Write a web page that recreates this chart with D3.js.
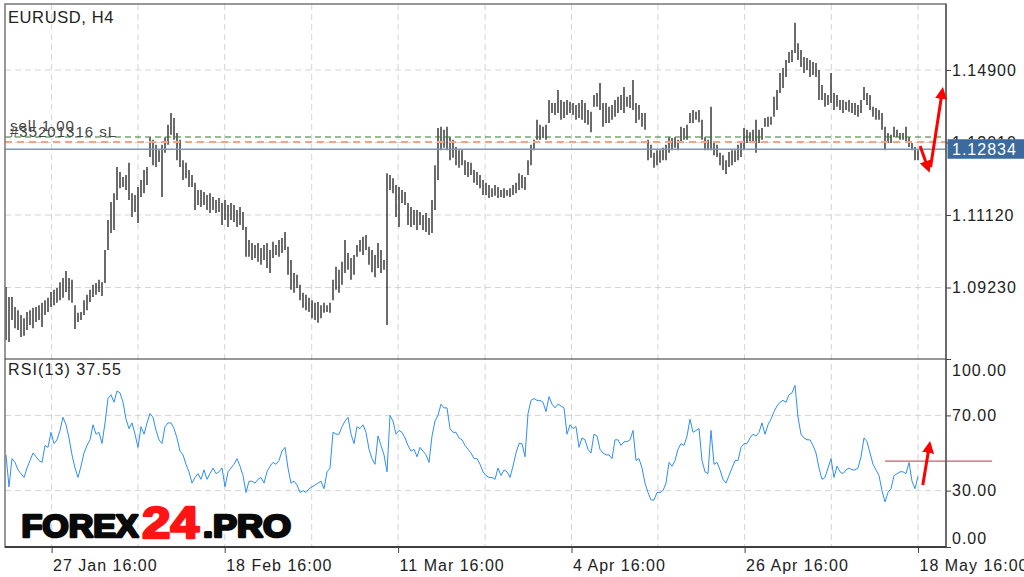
<!DOCTYPE html>
<html>
<head>
<meta charset="utf-8">
<script src="https://cdn.jsdelivr.net/npm/d3@7"></script>
<style>
  html, body { margin: 0; padding: 0; background: #fff; }
  svg { display: block; }
  text { font-family: "Liberation Sans", Arial, sans-serif; }
</style>
</head>
<body>
<svg id="chart" width="1024" height="577"></svg>
<script>
// ---------------- DATA ----------------
const symbolTitle = "EURUSD, H4";
const rsiTitle = "RSI(13) 37.55";
const lastPrice = 1.12834;
const sellPrice = 1.13153;
const stopPrice = 1.13023;
const orderLabel1 = "sell 1.00";
const orderLabel2 = "#35201316 sL";
const priceTicks = [1.14900, 1.13010, 1.11120, 1.09230];
const rsiTicks = [100, 70, 30, 0];
const rsiGrid = [70, 30];
const rsiLevel = 45.7;
const xTickIdx = [15.2, 44, 72.9, 101.9, 130.7, 159.7, 188.5, 217.3, 246.2, 275.1, 304];
const xTickLabels = ["27 Jan 16:00", "", "18 Feb 16:00", "", "11 Mar 16:00", "", "4 Apr 16:00", "", "26 Apr 16:00", "", "18 May 16:00"];

const highs = [
1.0924,1.0898,1.0898,1.0872,1.0864,1.0851,1.0843,1.0859,1.0864,1.0870,
1.0872,1.0877,1.0883,1.0890,1.0896,1.0911,1.0917,1.0922,1.0937,1.0948,
1.0966,1.0948,1.0943,1.0877,1.0857,1.0859,1.0890,1.0904,1.0917,1.0930,
1.0935,1.0943,1.0937,1.1021,1.1099,1.1146,1.1169,1.1237,1.1224,1.1211,
1.1216,1.1248,1.1169,1.1164,1.1185,1.1203,1.1229,1.1237,1.1315,1.1308,
1.1295,1.1281,1.1295,1.1315,1.1347,1.1378,1.1365,1.1326,1.1308,1.1255,
1.1248,1.1229,1.1216,1.1196,1.1177,1.1177,1.1172,1.1164,1.1169,1.1159,
1.1151,1.1156,1.1143,1.1151,1.1138,1.1143,1.1138,1.1125,1.1133,1.1120,
1.1081,1.1047,1.1039,1.1034,1.1039,1.1026,1.1034,1.1039,1.1021,1.1042,
1.1034,1.1047,1.1052,1.1068,1.1029,1.0995,1.0961,1.0956,1.0930,1.0909,
1.0904,1.0896,1.0890,1.0883,1.0885,1.0877,1.0883,1.0877,1.0883,1.0943,
1.0977,1.0969,1.0990,1.1047,1.1013,1.1000,1.1008,1.1034,1.1047,1.1055,
1.1060,1.1029,1.1021,1.1008,1.1039,1.1021,1.0995,1.1221,1.1216,1.1208,
1.1190,1.1185,1.1177,1.1172,1.1143,1.1133,1.1125,1.1125,1.1120,1.1112,
1.1117,1.1104,1.1151,1.1242,1.1339,1.1342,1.1334,1.1342,1.1315,1.1308,
1.1289,1.1281,1.1281,1.1255,1.1250,1.1248,1.1229,1.1224,1.1216,1.1203,
1.1196,1.1190,1.1182,1.1190,1.1185,1.1177,1.1182,1.1177,1.1182,1.1190,
1.1196,1.1221,1.1216,1.1211,1.1255,1.1295,1.1308,1.1360,1.1347,1.1342,
1.1347,1.1412,1.1404,1.1404,1.1438,1.1412,1.1407,1.1412,1.1407,1.1404,
1.1399,1.1404,1.1412,1.1404,1.1386,1.1381,1.1425,1.1430,1.1456,1.1404,
1.1404,1.1394,1.1399,1.1412,1.1420,1.1425,1.1446,1.1420,1.1425,1.1464,
1.1404,1.1399,1.1378,1.1378,1.1308,1.1295,1.1274,1.1281,1.1281,1.1287,
1.1295,1.1315,1.1313,1.1315,1.1308,1.1342,1.1339,1.1347,1.1378,1.1386,
1.1381,1.1386,1.1360,1.1315,1.1308,1.1394,1.1300,1.1295,1.1274,1.1268,
1.1255,1.1276,1.1281,1.1281,1.1295,1.1300,1.1339,1.1334,1.1328,1.1334,
1.1360,1.1334,1.1339,1.1365,1.1368,1.1368,1.1420,1.1438,1.1482,1.1495,
1.1516,1.1537,1.1542,1.1613,1.1560,1.1542,1.1524,1.1521,1.1516,1.1511,
1.1508,1.1490,1.1451,1.1430,1.1425,1.1482,1.1430,1.1425,1.1412,1.1412,
1.1407,1.1412,1.1404,1.1404,1.1399,1.1412,1.1446,1.1430,1.1425,1.1394,
1.1391,1.1386,1.1378,1.1342,1.1326,1.1321,1.1342,1.1334,1.1326,1.1326,
1.1342,1.1315,1.1300,1.1289,1.1281
];
const lows = [
1.0786,1.0781,1.0838,1.0817,1.0812,1.0794,1.0797,1.0812,1.0825,1.0817,
1.0833,1.0838,1.0820,1.0851,1.0859,1.0872,1.0877,1.0883,1.0890,1.0896,
1.0911,1.0890,1.0883,1.0815,1.0833,1.0838,1.0851,1.0864,1.0885,1.0898,
1.0904,1.0911,1.0901,1.0935,1.1021,1.1065,1.1073,1.1151,1.1182,1.1185,
1.1177,1.1151,1.1107,1.1120,1.1091,1.1159,1.1169,1.1190,1.1263,1.1242,
1.1237,1.1250,1.1159,1.1274,1.1295,1.1321,1.1308,1.1255,1.1237,1.1203,
1.1208,1.1185,1.1185,1.1125,1.1138,1.1133,1.1138,1.1125,1.1117,1.1125,
1.1117,1.1120,1.1086,1.1099,1.1081,1.1099,1.1094,1.1081,1.1086,1.1073,
1.1003,1.1003,1.0995,1.1000,1.0990,1.0982,1.0995,1.0974,1.0961,1.1000,
1.1008,1.1003,1.1013,1.1021,1.0956,1.0917,1.0909,1.0922,1.0890,1.0870,
1.0864,1.0859,1.0843,1.0838,1.0831,1.0843,1.0857,1.0859,1.0857,1.0890,
1.0917,1.0909,1.0930,1.0961,1.0969,1.0943,1.0956,1.1003,1.1016,1.1008,
1.1021,1.0982,1.0963,1.0950,1.0974,1.0961,1.0969,1.0825,1.1177,1.1169,
1.1107,1.1081,1.1143,1.1138,1.1086,1.1081,1.1086,1.1073,1.1086,1.1073,
1.1068,1.1060,1.1065,1.1125,1.1203,1.1281,1.1287,1.1281,1.1255,1.1261,
1.1242,1.1235,1.1242,1.1216,1.1211,1.1216,1.1196,1.1190,1.1182,1.1164,
1.1164,1.1156,1.1159,1.1162,1.1156,1.1159,1.1156,1.1162,1.1159,1.1164,
1.1169,1.1177,1.1182,1.1177,1.1216,1.1242,1.1281,1.1308,1.1308,1.1313,
1.1308,1.1352,1.1378,1.1373,1.1378,1.1360,1.1365,1.1373,1.1378,1.1373,
1.1360,1.1365,1.1360,1.1352,1.1347,1.1328,1.1394,1.1394,1.1386,1.1342,
1.1352,1.1352,1.1360,1.1368,1.1378,1.1386,1.1378,1.1394,1.1391,1.1386,
1.1352,1.1360,1.1342,1.1334,1.1255,1.1261,1.1235,1.1242,1.1248,1.1255,
1.1255,1.1274,1.1281,1.1287,1.1281,1.1300,1.1308,1.1308,1.1352,1.1352,
1.1360,1.1354,1.1308,1.1281,1.1281,1.1281,1.1268,1.1263,1.1242,1.1229,
1.1219,1.1237,1.1242,1.1250,1.1255,1.1263,1.1281,1.1300,1.1300,1.1302,
1.1274,1.1300,1.1308,1.1342,1.1342,1.1347,1.1368,1.1386,1.1430,1.1443,
1.1472,1.1508,1.1511,1.1534,1.1516,1.1498,1.1482,1.1490,1.1472,1.1477,
1.1472,1.1412,1.1412,1.1394,1.1399,1.1404,1.1386,1.1394,1.1386,1.1378,
1.1386,1.1381,1.1378,1.1373,1.1368,1.1378,1.1412,1.1399,1.1386,1.1368,
1.1360,1.1360,1.1334,1.1281,1.1300,1.1300,1.1315,1.1315,1.1308,1.1308,
1.1300,1.1289,1.1281,1.1255,1.1255
];
const rsiValues = [
49,32,47,45,41,39,37,42,46,50,
48,46,45,54,53,61,55,57,62,69,
65,58,49,42,37,43,50,54,57,65,
60,61,55,66,79,81,77,83,82,77,
68,63,66,60,53,64,60,66,71,69,
62,57,55,64,66,66,63,58,51,49,
44,40,34,37,39,36,41,36,39,42,
39,40,42,32,40,42,44,47,43,38,
29,35,35,34,36,37,34,40,43,45,
44,46,51,53,42,34,35,33,29,30,
29,31,32,33,34,35,31,40,42,61,
60,60,64,67,69,60,55,64,63,65,
61,52,47,44,59,54,49,40,70,67,
60,62,61,58,54,51,52,48,53,51,
49,45,59,67,70,76,74,74,63,61,
61,58,57,54,52,50,47,47,44,40,
38,37,37,36,42,38,41,40,37,43,
50,55,55,48,71,78,79,78,78,77,
72,80,76,74,76,75,74,60,65,63,
64,53,58,57,52,50,60,59,52,50,
49,49,47,57,57,54,56,56,57,62,
46,47,42,34,29,25,25,29,29,30,
34,45,43,46,52,55,54,59,68,61,
62,63,46,40,39,62,44,45,41,36,
34,38,42,46,46,53,55,55,58,60,
59,61,66,60,65,68,72,75,77,78,
77,81,82,86,69,60,58,57,57,54,
50,42,36,37,42,47,37,43,40,39,
41,42,41,41,42,48,58,56,50,44,
41,38,30,24,29,31,38,39,40,40,
39,45,35,31,37.55
];
// annotation arrows, in (bar index, value) units
const mainArrows = [
  { from: [304.7, 1.12919], to: [307.2, 1.12371] },
  { from: [308.2, 1.12371], to: [312.0, 1.14300] }
];
const rsiArrows = [
  { from: [305.6, 33], to: [307.7, 53.2] }
];
const rsiLevelRange = [293, 328.7];

// ---------------- LAYOUT ----------------
const L = 5, R = 946, T = 4, MB = 358.5, RT = 359, RB = 547;
const svg = d3.select("#chart");
svg.append("rect").attr("width", 1024).attr("height", 577).attr("fill", "#fff");

const x = d3.scaleLinear().domain([0, highs.length - 1]).range([6, 918]);
const y = d3.scaleLinear().domain([1.0923, 1.149]).range([287.5, 70]);
const yr = d3.scaleLinear().domain([0, 100]).range([RB, RT]);

const defs = svg.append("defs");
defs.append("clipPath").attr("id", "clipMain").append("rect")
  .attr("x", L).attr("y", T).attr("width", R - L).attr("height", MB - T);
defs.append("clipPath").attr("id", "clipRsi").append("rect")
  .attr("x", L).attr("y", RT).attr("width", R - L).attr("height", RB - RT);
defs.append("marker").attr("id", "ah").attr("viewBox", "0 0 10 10")
  .attr("refX", 5).attr("refY", 5).attr("markerWidth", 4).attr("markerHeight", 4)
  .attr("orient", "auto").attr("markerUnits", "strokeWidth")
  .append("path").attr("d", "M0,0 L10,5 L0,10 z").attr("fill", "#ff0000");

const gridColor = "#d4d4d4";
// vertical grid
svg.append("g").selectAll("line").data(xTickIdx).join("line")
  .attr("x1", d => x(d)).attr("x2", d => x(d)).attr("y1", T).attr("y2", RB)
  .attr("stroke", gridColor).attr("stroke-width", 1).attr("stroke-dasharray", "6,4");
// horizontal grid main
svg.append("g").selectAll("line").data(priceTicks).join("line")
  .attr("x1", L).attr("x2", R).attr("y1", d => y(d)).attr("y2", d => y(d))
  .attr("stroke", gridColor).attr("stroke-width", 1).attr("stroke-dasharray", "6,4");
// horizontal grid rsi
svg.append("g").selectAll("line").data(rsiGrid).join("line")
  .attr("x1", L).attr("x2", R).attr("y1", d => yr(d)).attr("y2", d => yr(d))
  .attr("stroke", gridColor).attr("stroke-width", 1).attr("stroke-dasharray", "6,4");

// price bars
const main = svg.append("g").attr("clip-path", "url(#clipMain)");
main.append("g").selectAll("line").data(highs).join("line")
  .attr("x1", (d, i) => x(i)).attr("x2", (d, i) => x(i))
  .attr("y1", d => y(d)).attr("y2", (d, i) => y(lows[i]))
  .attr("stroke", "#3a3a3a").attr("stroke-width", 1.5);

// order lines
main.append("line").attr("x1", L).attr("x2", R).attr("y1", y(sellPrice)).attr("y2", y(sellPrice))
  .attr("stroke", "#2a7d2a").attr("stroke-width", 1).attr("stroke-dasharray", "6,4");
main.append("line").attr("x1", L).attr("x2", R).attr("y1", y(stopPrice)).attr("y2", y(stopPrice))
  .attr("stroke", "#f5a383").attr("stroke-width", 2).attr("stroke-dasharray", "7,5");
main.append("line").attr("x1", L).attr("x2", R).attr("y1", y(lastPrice)).attr("y2", y(lastPrice))
  .attr("stroke", "#7a98b8").attr("stroke-width", 1.5);

svg.append("text").attr("x", 10).attr("y", y(sellPrice) - 6).text(orderLabel1)
  .attr("font-size", 15).attr("fill", "#444").attr("letter-spacing", 1);
svg.append("text").attr("x", 10).attr("y", y(sellPrice) - 0.5).text(orderLabel2)
  .attr("font-size", 15).attr("fill", "#444").attr("letter-spacing", 1);

// RSI line
const rsiG = svg.append("g").attr("clip-path", "url(#clipRsi)");
rsiG.append("path").datum(rsiValues)
  .attr("d", d3.line().x((d, i) => x(i)).y(d => yr(d)))
  .attr("fill", "none").attr("stroke", "#2f8ef5").attr("stroke-width", 1);
svg.append("line").attr("x1", x(rsiLevelRange[0])).attr("x2", x(rsiLevelRange[1]))
  .attr("y1", yr(rsiLevel)).attr("y2", yr(rsiLevel))
  .attr("stroke", "#c4606c").attr("stroke-width", 1.2);

// frames
const frameColor = "#555";
svg.append("rect").attr("x", L).attr("y", T).attr("width", R - L).attr("height", RB - T)
  .attr("fill", "none").attr("stroke", "#777").attr("stroke-width", 1.5);
svg.append("line").attr("x1", L).attr("x2", R).attr("y1", RT).attr("y2", RT)
  .attr("stroke", "#333").attr("stroke-width", 1.2);
svg.append("line").attr("x1", L).attr("x2", R).attr("y1", RB).attr("y2", RB)
  .attr("stroke", "#222").attr("stroke-width", 1.3);
svg.append("line").attr("x1", R).attr("x2", R).attr("y1", T).attr("y2", RB)
  .attr("stroke", frameColor).attr("stroke-width", 1.3);

// price axis
const yAxis = d3.axisRight(y).tickValues(priceTicks).tickFormat(d3.format(".5f"))
  .tickSize(5).tickPadding(1);
const gy = svg.append("g").attr("transform", `translate(${R},0)`).call(yAxis);
gy.select(".domain").remove();
gy.selectAll("line").attr("stroke", "#444");
gy.selectAll("text").attr("font-size", 16).attr("fill", "#222").attr("letter-spacing", 1)
  .attr("font-family", "Liberation Sans, Arial, sans-serif");

// current price tag
svg.append("rect").attr("x", R + 1.5).attr("y", y(lastPrice) - 10).attr("width", 1024 - R)
  .attr("height", 19.5).attr("fill", "#3c6a9c");
svg.append("text").attr("x", R + 6).attr("y", y(lastPrice) + 5.5).text(lastPrice.toFixed(5))
  .attr("font-size", 16).attr("fill", "#fff").attr("letter-spacing", 1);

// rsi axis
const rAxis = d3.axisRight(yr).tickValues(rsiTicks).tickFormat(d3.format(".2f"))
  .tickSize(5).tickPadding(1);
const gr = svg.append("g").attr("transform", `translate(${R},0)`).call(rAxis);
gr.select(".domain").remove();
gr.selectAll("line").attr("stroke", "#444");
gr.selectAll("text").attr("font-size", 16).attr("fill", "#222").attr("letter-spacing", 1)
  .attr("font-family", "Liberation Sans, Arial, sans-serif")
  .attr("dy", d => d === 100 ? "1.05em" : d === 0 ? "-0.2em" : "0.32em");

// x axis
const xAxis = d3.axisBottom(x).tickValues(xTickIdx).tickFormat((d, i) => xTickLabels[i])
  .tickSize(6).tickPadding(7);
const gx = svg.append("g").attr("transform", `translate(0,${RB})`).call(xAxis);
gx.select(".domain").remove();
gx.selectAll(".tick").filter((d, i) => xTickLabels[i] === "").select("line").remove();
gx.selectAll("line").attr("stroke", "#444");
gx.selectAll("text").attr("text-anchor", "start").attr("dx", 1)
  .attr("font-size", 16).attr("fill", "#222").attr("letter-spacing", 1)
  .attr("font-family", "Liberation Sans, Arial, sans-serif");

// titles
svg.append("text").attr("x", 8).attr("y", 23).text(symbolTitle)
  .attr("font-size", 16.5).attr("fill", "#222").attr("letter-spacing", 0.6);
svg.append("text").attr("x", 8).attr("y", 375).text(rsiTitle)
  .attr("font-size", 16).attr("fill", "#222").attr("letter-spacing", 1.1);

// arrows
function drawArrow(a, sy) {
  svg.append("line")
    .attr("x1", x(a.from[0])).attr("y1", sy(a.from[1]))
    .attr("x2", x(a.to[0])).attr("y2", sy(a.to[1]))
    .attr("stroke", "#ff0000").attr("stroke-width", 3)
    .attr("marker-end", "url(#ah)");
}
mainArrows.forEach(a => drawArrow(a, y));
rsiArrows.forEach(a => drawArrow(a, yr));

// logo (heavy lettering: bold glyphs thickened with a same-colour stroke)
const logo = svg.append("g").attr("font-family", "'DejaVu Sans', sans-serif")
  .attr("font-weight", "bold").attr("stroke-linejoin", "round");
logo.append("text").attr("x", 21.5).attr("y", 537).text("FOREX")
  .attr("font-size", 32).attr("fill", "#0a0a0a").attr("stroke", "#0a0a0a").attr("stroke-width", 2.6)
  .attr("textLength", 117).attr("lengthAdjust", "spacingAndGlyphs");
logo.append("text").attr("x", 142).attr("y", 538).text("24")
  .attr("font-size", 44).attr("fill", "#ff1414").attr("stroke", "#ff1414").attr("stroke-width", 2.4)
  .attr("textLength", 57).attr("lengthAdjust", "spacingAndGlyphs");
logo.append("text").attr("x", 203).attr("y", 537).text(".PRO")
  .attr("font-size", 32).attr("fill", "#0a0a0a").attr("stroke", "#0a0a0a").attr("stroke-width", 2.6)
  .attr("textLength", 88).attr("lengthAdjust", "spacingAndGlyphs");
</script>
</body>
</html>
